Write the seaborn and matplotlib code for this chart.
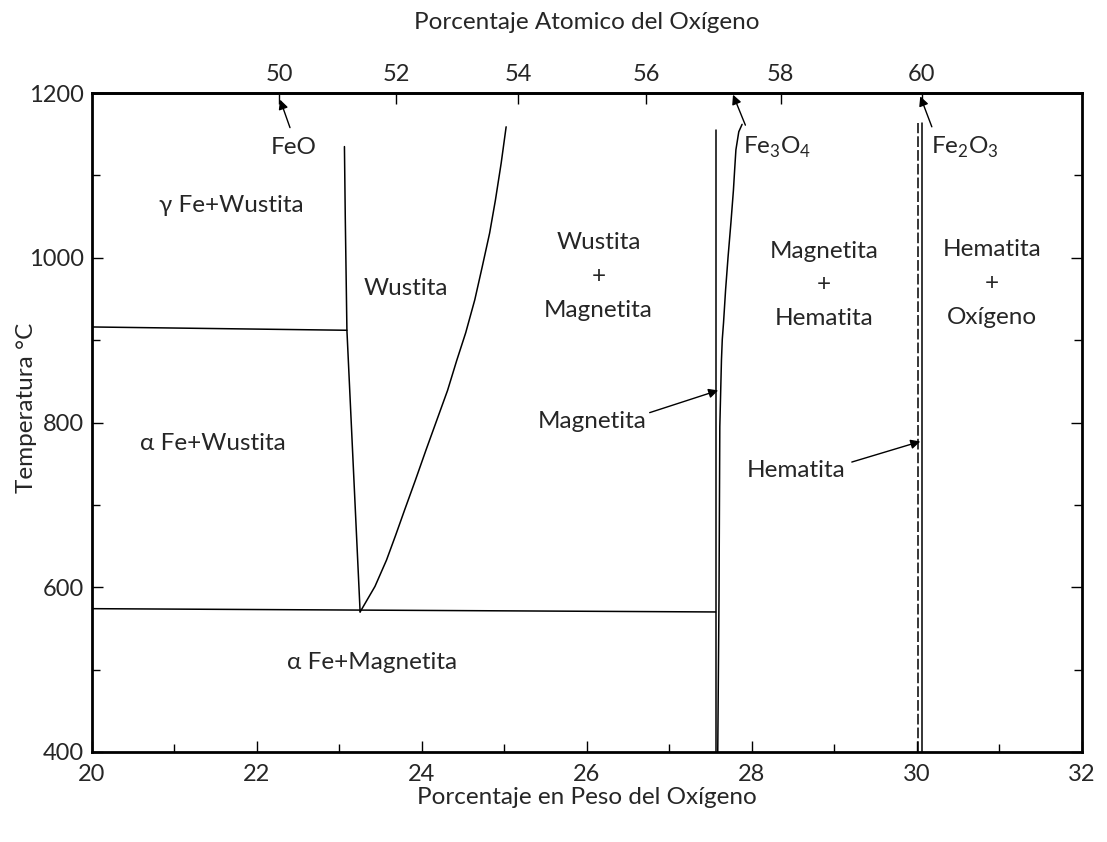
import numpy as np
import pandas as pd
import matplotlib
matplotlib.use("Agg")
import matplotlib.pyplot as plt
import seaborn as sns

# ---------------- data (wt% O, temperature °C) ----------------
gamma_alpha_x = [20.0, 23.09]
gamma_alpha_y = [916, 912]
wus_left_x = [23.06, 23.07, 23.09, 23.25]
wus_left_y = [1135, 1050, 912, 570]
wus_right_x = [23.25, 23.43, 23.57, 23.68, 23.79, 23.92, 24.05, 24.18, 24.31, 24.42,
               24.53, 24.64, 24.73, 24.82, 24.89, 24.96, 25.02]
wus_right_y = [570, 601, 633, 663, 694, 730, 767, 803, 839, 875,
               909, 949, 989, 1030, 1070, 1115, 1159]
eutectoid_x = [20.0, 27.56]
eutectoid_y = [574, 570]
mag_left_x = [27.56, 27.56]
mag_left_y = [400, 1155]
mag_right_x = [27.585, 27.60, 27.61, 27.63, 27.64, 27.655, 27.68, 27.71, 27.745, 27.775,
               27.79, 27.805, 27.84, 27.88]
mag_right_y = [400, 585, 795, 876, 901, 921, 961, 1001, 1043, 1082,
               1107, 1131, 1153, 1162]
hem_dash_x = [30.01, 30.01]
hem_dash_y = [400, 1164]
hem_solid_x = [30.06, 30.06]
hem_solid_y = [400, 1164]

x_major = [20, 22, 24, 26, 28, 30, 32]
x_minor = [21, 23, 25, 27, 29, 31]
y_major = [400, 600, 800, 1000, 1200]
y_minor = [500, 700, 900, 1100]
top_ticks = [50, 52, 54, 56, 58, 60]

region_labels = ["\u03b3 Fe+Wustita", "Wustita", "Wustita\n+\nMagnetita",
                 "Magnetita\n+\nHematita", "Hematita\n+\nOx\u00edgeno",
                 "\u03b1 Fe+Wustita", "\u03b1 Fe+Magnetita"]
region_x = [21.69, 23.81, 26.14, 28.87, 30.91, 21.47, 23.39]
region_y = [1064, 963, 977, 967, 969, 775, 509]

# arrows: (label, text x, text y, ha, tail x, tail y, tip x, tip y)
arrow_labels = ["FeO", "Fe$_\\mathregular{3}$O$_\\mathregular{4}$",
                "Fe$_\\mathregular{2}$O$_\\mathregular{3}$", "Magnetita", "Hematita"]
arrow_text_x = [22.44, 27.89, 30.17, 26.06, 28.54]
arrow_text_y = [1134, 1134, 1134, 801, 742]
arrow_ha = ["center", "left", "left", "center", "center"]
arrow_tail_x = [22.40, 27.92, 30.18, 26.76, 29.21]
arrow_tail_y = [1158, 1161, 1159, 812, 752]
arrow_tip_x = [22.28, 27.77, 30.04, 27.59, 30.04]
arrow_tip_y = [1192, 1198, 1196, 839, 777]

# ---------------- styling ----------------
sns.set_theme(style="white")
plt.rcParams["font.family"] = ["Lato", "DejaVu Sans"]
plt.rcParams["mathtext.fontset"] = "custom"
plt.rcParams["mathtext.rm"] = "Lato"

FS = 17.5
TFS = 17
fig = plt.figure(figsize=(11.07, 8.42), dpi=100)
ax = fig.add_axes([0.0831, 0.1069, 0.8943, 0.7826])

lw = 1.1
for xs, ys in [(gamma_alpha_x, gamma_alpha_y), (wus_left_x, wus_left_y),
               (wus_right_x, wus_right_y), (eutectoid_x, eutectoid_y),
               (mag_left_x, mag_left_y), (mag_right_x, mag_right_y),
               (hem_solid_x, hem_solid_y)]:
    sns.lineplot(x=xs, y=ys, sort=False, estimator=None, color="black", lw=lw, ax=ax)
sns.lineplot(x=hem_dash_x, y=hem_dash_y, sort=False, estimator=None, color="black",
             lw=lw, ax=ax, linestyle=(0, (7, 2)))

ax.set_xlim(20, 32)
ax.set_ylim(400, 1200)
for s in ax.spines.values():
    s.set_visible(True)
    s.set_color("black")
    s.set_linewidth(2.0)

ax.set_xticks(x_major)
ax.set_xticks(x_minor, minor=True)
ax.set_xticklabels([str(v) for v in x_major], fontsize=TFS)
ax.set_yticks(y_major)
ax.set_yticks(y_minor, minor=True)
ax.set_yticklabels([str(v) for v in y_major], fontsize=TFS)
ax.tick_params(axis="both", which="both", direction="in", color="black",
               width=1.0, bottom=True, left=True, right=True, top=False)
ax.tick_params(axis="both", which="major", length=8, pad=9)
ax.tick_params(axis="both", which="minor", length=6)
ax.tick_params(axis="y", which="major", pad=6)

ax.set_xlabel("Porcentaje en Peso del Ox\u00edgeno", fontsize=FS, labelpad=1)
ax.set_ylabel("Temperatura \u00b0C", fontsize=FS)
ax.yaxis.set_label_coords(-0.056, 0.522)


def wt2at(w):
    w = np.asarray(w, dtype=float)
    return 100 * (w / 16.0) / (w / 16.0 + (100 - w) / 55.85)


def at2wt(a):
    a = np.asarray(a, dtype=float)
    return 100 * a * 16.0 / (a * 16.0 + (100 - a) * 55.85)


secax = ax.secondary_xaxis("top", functions=(wt2at, at2wt))
secax.set_xticks(top_ticks)
secax.set_xticklabels([str(v) for v in top_ticks], fontsize=TFS)
secax.tick_params(direction="in", length=8, width=1.0, pad=6, color="black")
secax.set_xlabel("Porcentaje Atomico del Ox\u00edgeno", fontsize=FS, labelpad=25)
secax.spines["top"].set_linewidth(2.0)

for t, x, y in zip(region_labels, region_x, region_y):
    ax.text(x, y, t, fontsize=FS, ha="center", va="center", linespacing=1.75)

for t, tx, ty, ha, x0, y0, x1, y1 in zip(arrow_labels, arrow_text_x, arrow_text_y, arrow_ha,
                                          arrow_tail_x, arrow_tail_y, arrow_tip_x, arrow_tip_y):
    ax.text(tx, ty, t, fontsize=FS, ha=ha, va="center")
    ax.annotate("", xy=(x1, y1), xytext=(x0, y0),
                arrowprops=dict(arrowstyle="-|>", color="black", lw=1.0,
                                mutation_scale=14, shrinkA=0, shrinkB=0))

fig.savefig("out.png", dpi=100)
